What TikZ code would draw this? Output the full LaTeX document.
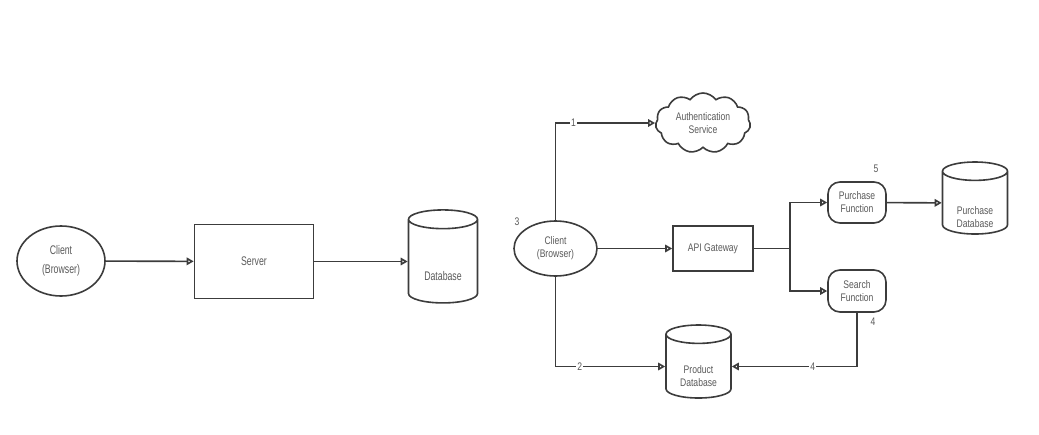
\documentclass[tikz,border=0pt]{standalone}
\usepackage{fontspec}
\setmainfont{Liberation Sans}[FakeStretch=0.78]
\usetikzlibrary{arrows.meta,shapes.geometric,shapes.symbols}
\definecolor{linegray}{HTML}{3C3C3C}
\definecolor{textgray}{HTML}{5A5A5A}
% text i cylindern sitter under locket
\newcommand{\dbtext}[2][-15pt]{\raisebox{#1}[\height][\depth]{\begin{tabular}{@{}c@{}}#2\end{tabular}}}
\tikzset{
  >={Triangle[open,length=7pt,width=7.5pt]},
  % noder
  client/.style={ellipse,draw=linegray,line width=1.6pt,inner sep=0pt,align=center,
                 text=textgray,font=\fontsize{11}{13}\selectfont},
  box/.style={rectangle,draw=linegray,line width=1.6pt,inner sep=0pt,align=center,
              text=textgray,font=\fontsize{11}{13}\selectfont},
  func/.style={box,rounded corners=12pt},
  db/.style={cylinder,shape border rotate=90,aspect=0.5,draw=linegray,line width=1.6pt,
             inner sep=0pt,text=textgray,font=\fontsize{11}{13}\selectfont},
  svc/.style={cloud,cloud puffs=11,cloud puff arc=110,aspect=1.6,draw=linegray,
              line width=1.6pt,inner sep=0pt,align=center,text=textgray,
              font=\fontsize{11}{13}\selectfont},
  big/.style={font=\fontsize{12.5}{19}\selectfont\addfontfeature{FakeStretch=0.7}},
  % kanter
  conn/.style={->,draw=linegray,line width=1.6pt},
  wire/.style={draw=linegray,line width=1.6pt},
  step num/.style={fill=white,inner sep=1pt,text=textgray,font=\fontsize{11}{13}\selectfont},
  free num/.style={inner sep=0pt,text=textgray,font=\fontsize{11}{13}\selectfont},
}
\begin{document}
\begin{tikzpicture}[x=1pt,y=-1pt]
  \useasboundingbox[fill=white] (0,0) rectangle (1039,434);
  % monolit
  \node[client,big,minimum width=88pt,minimum height=70pt] (c1) at (61,261) {Client\\(Browser)};
  \node[box,big,minimum width=119pt,minimum height=74pt] (srv) at (254,261.5) {Server};
  \node[db,big,minimum width=69pt,minimum height=93pt] (db1) at (443,261.5) {\dbtext{Database}};
  \draw[conn] (c1) -- (srv);
  \draw[conn] (srv) -- (db1);
  % serverless
  \node[svc,minimum width=95pt,minimum height=60pt] (auth) at (703,123) {Authentication\\Service};
  \node[client,minimum width=83pt,minimum height=55pt] (c2) at (555.5,248.5) {Client\\(Browser)};
  \node[box,minimum width=80pt,minimum height=45pt] (api) at (713,248.5) {API Gateway};
  \coordinate (split) at (790,248.5);
  \node[func,minimum width=58pt,minimum height=41pt] (pf) at (857,202.5) {Purchase\\Function};
  \node[func,minimum width=58pt,minimum height=42pt] (sf) at (857,291) {Search\\Function};
  \node[db,minimum width=65pt,minimum height=72pt] (pdb) at (975,203) {\dbtext{Purchase\\Database}};
  \node[db,minimum width=65pt,minimum height=73pt] (prodb) at (698.5,366.5) {\dbtext[-11pt]{Product\\Database}};
  \draw[conn] (c2.north) |- node[step num,pos=0.59]{1} (auth.west);
  \draw[conn] (c2) -- (api);
  \draw[wire] (api) -- (split);
  \draw[conn] (split) |- (pf.west);
  \draw[conn] (split) |- (sf.west);
  \draw[conn] (pf) -- (pdb);
  \draw[conn] (c2.south) |- node[step num,pos=0.61]{2} (prodb.west);
  \draw[conn] (sf.south) |- node[step num,pos=0.677]{4} (prodb.east);
  \node[free num] (n3) at (517,222) {3};
  \node[free num] (n5) at (876,169) {5};
  \node[free num] (n4) at (873,322) {4};
\end{tikzpicture}
\end{document}
